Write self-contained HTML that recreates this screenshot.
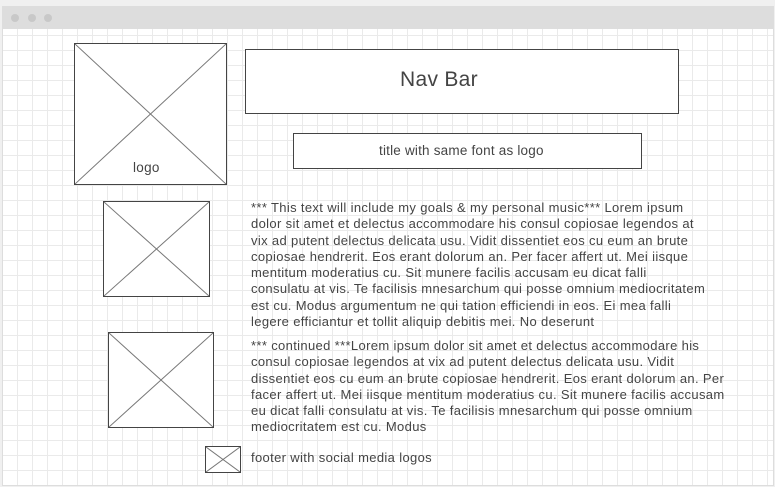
<!DOCTYPE html>
<html><head><style>
body{margin:0;width:775px;height:487px;overflow:hidden;background:#f0f0f0;font-family:"Liberation Sans",sans-serif;}
#win{position:absolute;left:2px;top:6px;width:770px;height:478px;background:#fff;border:1px solid #ddd;
background-image:repeating-linear-gradient(90deg,transparent 0 14px,#eaeaea 14px 15px),repeating-linear-gradient(0deg,transparent 0 14px,#eaeaea 14px 15px);}
#bar{position:absolute;left:2px;top:6px;width:771px;height:23px;background:#ddd;}
.dot{position:absolute;top:14px;width:8px;height:8px;border-radius:50%;background:#c8c8c8;}
.box{position:absolute;border:1.3px solid #444;background:#fff;box-sizing:border-box;}
.box svg{position:absolute;left:0;top:0;width:100%;height:100%;}
.t{position:absolute;color:#444;font-size:14px;letter-spacing:0.3px;line-height:16.3px;white-space:nowrap;}
.s{font-size:13px;letter-spacing:0.35px;}
</style></head><body>
<div id="win"></div><div id="bar"></div>
<div class="dot" style="left:11px"></div><div class="dot" style="left:28px"></div><div class="dot" style="left:44px"></div>
<div class="box" style="left:74px;top:43px;width:153px;height:142px"><svg viewBox="0 0 100 100" preserveAspectRatio="none"><line x1="0" y1="0" x2="100" y2="100" stroke="#777" vector-effect="non-scaling-stroke"/><line x1="100" y1="0" x2="0" y2="100" stroke="#777" vector-effect="non-scaling-stroke"/></svg><div class="t" style="left:58px;top:116px;font-size:13.5px">logo</div></div>
<div class="box" style="left:245px;top:49px;width:434px;height:65px"></div>
<div class="t" style="left:400px;top:67px;font-size:21px;letter-spacing:0.3px;line-height:26px">Nav Bar</div>
<div class="box" style="left:293px;top:133px;width:349px;height:36px"></div>
<div class="t" style="left:379px;top:143px;font-size:13.5px;letter-spacing:0.2px">title with same font as logo</div>
<div class="box" style="left:103px;top:201px;width:107px;height:96px"><svg viewBox="0 0 100 100" preserveAspectRatio="none"><line x1="0" y1="0" x2="100" y2="100" stroke="#777" vector-effect="non-scaling-stroke"/><line x1="100" y1="0" x2="0" y2="100" stroke="#777" vector-effect="non-scaling-stroke"/></svg></div>
<div class="box" style="left:108px;top:332px;width:106px;height:96px"><svg viewBox="0 0 100 100" preserveAspectRatio="none"><line x1="0" y1="0" x2="100" y2="100" stroke="#777" vector-effect="non-scaling-stroke"/><line x1="100" y1="0" x2="0" y2="100" stroke="#777" vector-effect="non-scaling-stroke"/></svg></div>
<div class="box" style="left:205px;top:446px;width:36px;height:27px"><svg viewBox="0 0 100 100" preserveAspectRatio="none"><line x1="0" y1="0" x2="100" y2="100" stroke="#777" vector-effect="non-scaling-stroke"/><line x1="100" y1="0" x2="0" y2="100" stroke="#777" vector-effect="non-scaling-stroke"/></svg></div>
<div class="t s" style="left:251px;top:200px">*** This text will include my goals &amp; my personal music*** Lorem ipsum<br>dolor sit amet et delectus accommodare his consul copiosae legendos at<br>vix ad putent delectus delicata usu. Vidit dissentiet eos cu eum an brute<br>copiosae hendrerit. Eos erant dolorum an. Per facer affert ut. Mei iisque<br>mentitum moderatius cu. Sit munere facilis accusam eu dicat falli<br>consulatu at vis. Te facilisis mnesarchum qui posse omnium mediocritatem<br>est cu. Modus argumentum ne qui tation efficiendi in eos. Ei mea falli<br>legere efficiantur et tollit aliquip debitis mei. No deserunt</div>
<div class="t s" style="left:251px;top:338px">*** continued ***Lorem ipsum dolor sit amet et delectus accommodare his<br>consul copiosae legendos at vix ad putent delectus delicata usu. Vidit<br>dissentiet eos cu eum an brute copiosae hendrerit. Eos erant dolorum an. Per<br>facer affert ut. Mei iisque mentitum moderatius cu. Sit munere facilis accusam<br>eu dicat falli consulatu at vis. Te facilisis mnesarchum qui posse omnium<br>mediocritatem est cu. Modus</div>
<div class="t s" style="left:251px;top:450px">footer with social media logos</div>
</body></html>
